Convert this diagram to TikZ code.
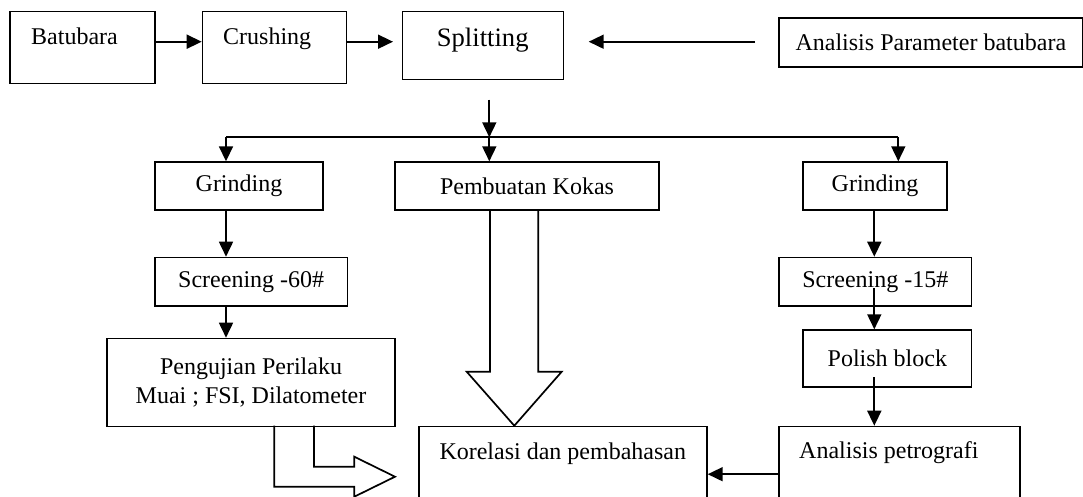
\documentclass[tikz,border=0pt]{standalone}
\usepackage{fontspec}
\setmainfont{Liberation Serif}
\usetikzlibrary{arrows.meta,calc}
\begin{document}
\begin{tikzpicture}[x=1pt,y=-1pt,
  box/.style={draw, line width=1.7pt, inner sep=0pt, anchor=north west, align=center,
    font=\fontsize{24}{28.8}\selectfont},
  txt/.style={inner sep=0pt, anchor=base west, font=\fontsize{24}{28.8}\selectfont},
  arr/.style={line width=1.7pt, -{Triangle[length=15pt,width=14pt]}},
  ln/.style={line width=1.7pt},
  blk/.style={line width=1.7pt, line join=miter}]
\useasboundingbox (0,0) rectangle (1083,496);
\clip (0,0) rectangle (1083,496);

% top row
\node[box, minimum width=144.7pt, minimum height=72pt] (bat) at (9.3,10.7) {};
\node[txt] (batt) at (31,44.3) {Batubara};
\node[box, minimum width=144pt, minimum height=72pt] (cru) at (201.7,10.7) {};
\node[txt] (crut) at (223,44.3) {Crushing};
\node[box, minimum width=161pt, minimum height=68pt] (spl) at (401.7,10.7) {};
\node[txt, font=\fontsize{26.6}{32}\selectfont] (splt) at (436.7,46.5) {Splitting};
\node[box, minimum width=304pt, minimum height=49pt] (par) at (778,17) {Analisis Parameter batubara};

\coordinate (r1) at (0,41.7);
\draw[arr] (bat.east |- r1) -- (cru.west |- r1);
\draw[arr] (cru.east |- r1) -- ($(spl.west |- r1)+(-8.7,0)$);
\draw[arr, shorten <=23pt] (par.west |- r1) -- ($(spl.east |- r1)+(24.3,0)$);

% branching
\coordinate (hub) at (489.3,137.3);
\coordinate (hl) at (226,137.3);
\coordinate (hr) at (898.3,137.3);

% level 2
\node[box, minimum width=168.3pt, minimum height=48pt] (gl) at (154,161.3) {Grinding};
\node[box, minimum width=264.3pt, minimum height=48pt] (pemb) at (394,161.3) {Pembuatan Kokas};
\node[box, minimum width=143.7pt, minimum height=48pt] (gr) at (802.3,161.3) {Grinding};

\draw[arr, shorten <=19.3pt] (hub |- spl.south) -- (hub);
\draw[ln] (hl) -- (hr);
\draw[arr] (hl) -- (hl |- gl.north);
\draw[arr] (hub) -- (hub |- pemb.north);
\draw[arr] (hr) -- (hr |- gr.north);

% level 3
\node[box, minimum width=192.7pt, minimum height=48.6pt] (s60) at (154,256.7) {Screening -60\#};
\node[box, minimum width=192.4pt, minimum height=48.6pt] (s15) at (778.3,256.7) {Screening -15\#};
\node[box, minimum width=288.3pt, minimum height=88pt] (peng) at (106,337.7) {Pengujian Perilaku\\Muai ; FSI, Dilatometer};
\node[box, minimum width=168.4pt, minimum height=56.7pt] (pol) at (802.3,329.3) {Polish block};
\node[box, minimum width=287.7pt, minimum height=95.3pt] (kor) at (418.3,425.7) {};
\node[txt] (kort) at (439.3,459) {Korelasi dan pembahasan};
\node[box, minimum width=240.7pt, minimum height=95.3pt] (ana) at (778.3,425.7) {};
\node[txt] (anat) at (799,458.5) {Analisis petrografi};

\coordinate (xl) at (226,0);
\coordinate (xr) at (874.3,0);
\draw[arr] (xl |- gl.south) -- (xl |- s60.north);
\draw[arr] (xl |- s60.south) -- (xl |- peng.north);
\draw[arr] (xr |- gr.south) -- (xr |- s15.north);
\draw[arr] (xr |- 0,288) -- (xr |- pol.north);
\draw[arr] (xr |- 0,377) -- (xr |- ana.north);
\draw[arr] (ana.west) -- (kor.east);

% block arrows
\draw[blk] (490,209.3) -- (490,371.7) -- (466.7,371.7) -- (514.3,425.7)
  -- (561.7,371.7) -- (538.3,371.7) -- (538.3,209.3);
\draw[blk] (314,425.7) -- (314,466.7) -- (354.3,466.7) -- (354.3,456.7)
  -- (395,476.7) -- (354.3,496.7) -- (354.3,486.7) -- (274.3,486.7) -- (274.3,425.7);
\end{tikzpicture}
\end{document}
